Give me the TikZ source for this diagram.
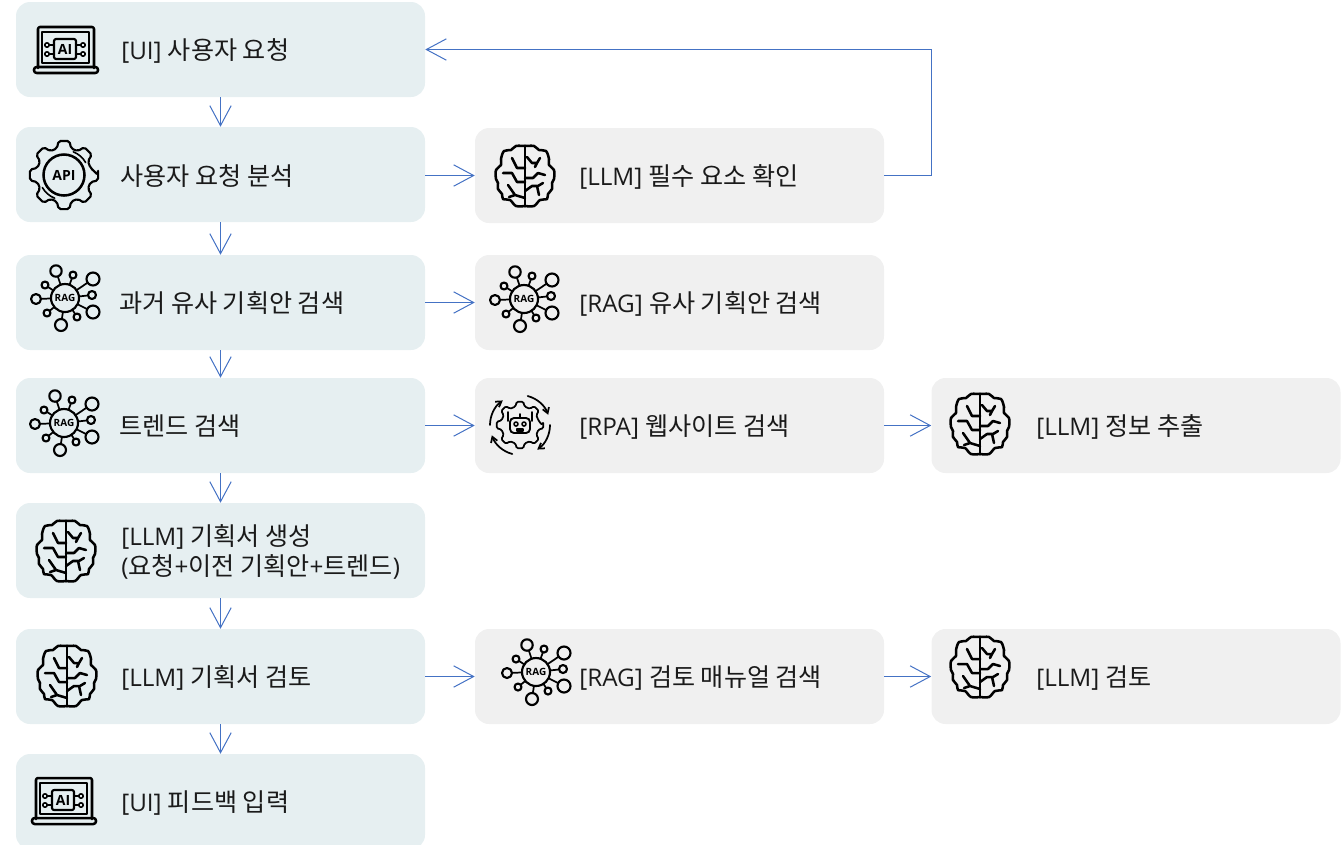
\documentclass[tikz,border=0pt]{standalone}
\usepackage{fontspec}
\setmainfont{Open Sans}
\newfontfamily\kr[Scale=1.035]{Noto Sans CJK KR}
\newfontfamily\icf{Open Sans}
\usetikzlibrary{arrows.meta,calc}
\definecolor{tealbg}{HTML}{E6EFF1}
\definecolor{graybg}{HTML}{F0F0F0}
\definecolor{arrowblue}{HTML}{4472C4}
\definecolor{ink}{HTML}{1A1A1A}
\newcommand{\K}[1]{{\kr #1}}
\tikzset{
  x=0.75pt,y=-0.75pt,
  stepbase/.style={draw=none,rounded corners=10.5pt,minimum width=306.75pt,minimum height=71.25pt,inner sep=0pt},
  tealbox/.style={stepbase,fill=tealbg},
  graybox/.style={stepbase,fill=graybg},
  label text/.style={anchor=base west,inner sep=0pt,font=\fontsize{18.2pt}{23pt}\selectfont,text=ink,align=left},
  flow/.style={draw=arrowblue,line width=0.75pt,-{Straight Barb[length=15pt,width=16pt,line width=0.75pt]}},
  icon/.style={draw=black,line width=1.9pt,line cap=round,line join=round},
  pics/brain/.style={code={
    \draw[icon] plot[smooth,tension=.55] coordinates {(0,-30) (9,-30) (14,-26) (21,-25) (24,-17) (24,-11) (29,-6) (29,3) (27,7) (27,13) (23,18) (22,23) (15,24) (9,30) (0,30)};
    \draw[icon] plot[smooth,tension=.55] coordinates {(0,-30) (-9,-30) (-14,-26) (-21,-25) (-24,-17) (-24,-11) (-29,-6) (-29,3) (-27,7) (-27,13) (-23,18) (-22,23) (-15,24) (-9,30) (0,30)};
    \draw[icon,line width=2.2pt] (0,-30) -- (0,30);
    \draw[icon] (2,-19) -- (7,-13) -- (12,-13) -- (15,-18) (12,-13) -- (10,-9);
    \draw[icon] (0,2) -- (8,2) -- (13,-3) -- (20,-1);
    \draw[icon] (0,15) -- (7,10) -- (13,10) -- (18,7) (12,10) -- (14,19);
    \draw[icon] (0,-8) -- (-8,-8) -- (-13,-18);
    \draw[icon] (0,6) -- (-8,6) -- (-13,-3) -- (-22,-3);
    \draw[icon] (0,22) -- (-10,19) -- (-17,9) (-10,19) -- (-16,21);
  }},
  pics/laptop/.style={code={
    \draw[icon,rounded corners=1.5pt] (-28,18) -- (-28,-23) -- (28,-23) -- (28,18);
    \draw[icon,line width=1.6pt] (-24,13) -- (-24,-18) -- (23,-18) -- (23,13) -- cycle;
    \draw[icon,rounded corners=2pt] (-32,17) -- (32,17) -- (32,23) -- (-32,23) -- cycle;
    \draw[icon,line width=1.6pt,rounded corners=1.5pt] (-12,-11) rectangle (10,9);
    \node[inner sep=0pt,font=\icf\bfseries\fontsize{10.5pt}{10.5pt}\selectfont] at (-1,-1) {AI};
    \draw[icon,line width=1.2pt] (-12,-5) -- (-17,-5) (-12,4) -- (-17,4) (10,-5) -- (15,-5) (10,4) -- (15,4);
    \draw[icon,line width=1.2pt] (-19,-5) circle (2.2) (-19,4) circle (2.2) (17,-5) circle (2.2) (17,4) circle (2.2);
  }},
  pics/gearapi/.style={code={
    \draw[icon,line width=1.6pt,rounded corners=1.5pt] (0:34) \foreach \a in {0,45,...,315}{ -- (\a-9:34.5) -- (\a+9:34.5) -- (\a+15:27.5) -- (\a+30:27.5)} -- cycle;
    \draw[icon] (0,0) circle (20.5);
    \draw[icon,line width=1.2pt] (-68:25) arc (-68:-30:25) (112:25) arc (112:150:25);
    \node[inner sep=0pt,font=\icf\bfseries\fontsize{10.5pt}{10.5pt}\selectfont] at (0,0) {API};
  }},
  pics/rag/.style={code={
    \draw[icon,line width=1.3pt]
      (0,0) -- (-9,-27) (0,0) -- (8,-23) (0,0) -- (28,-19) (0,0) -- (-20,-13) (0,0) -- (-29,1)
      (0,0) -- (27,-3) (0,0) -- (28,14) (0,0) -- (-18,15) (0,0) -- (-4,27) (0,0) -- (12,19);
    \draw[icon,line width=1.6pt,fill=#1]
      (0,0) circle (14) (-9,-27) circle (5.7) (8,-23) circle (3.5) (28,-19) circle (6.5)
      (-20,-13) circle (3.5) (-29,1) circle (5) (27,-3) circle (4) (28,14) circle (6.5)
      (-18,15) circle (3.5) (-4,27) circle (6) (12,19) circle (3.5);
    \node[inner sep=0pt,font=\icf\bfseries\fontsize{7.5pt}{7.5pt}\selectfont] at (0,0) {RAG};
  }},
  pics/robot/.style={code={
    \draw[icon,line width=1.3pt,rounded corners=1pt] (0:22) \foreach \a in {0,45,...,315}{ -- (\a-8:23.5) -- (\a+8:23.5) -- (\a+14:19) -- (\a+31:19)} -- cycle;
    \draw[icon,line width=1.3pt,-{Straight Barb[length=4pt,width=5pt]}] (-75:30) arc (-75:-20:30);
    \draw[icon,line width=1.3pt,-{Straight Barb[length=4pt,width=5pt]}] (0:30) arc (0:55:30);
    \draw[icon,line width=1.3pt,-{Straight Barb[length=4pt,width=5pt]}] (105:30) arc (105:160:30);
    \draw[icon,line width=1.3pt,-{Straight Barb[length=4pt,width=5pt]}] (180:30) arc (180:235:30);
    \draw[icon,line width=1.4pt,fill=graybg,rounded corners=3pt] (-10,-7) rectangle (10,8);
    \draw[icon,line width=1.2pt] (-4,-1) circle (2) (4,-1) circle (2);
    \draw[icon,line width=1.2pt] (-3,4) rectangle (3,6);
    \draw[icon,line width=1.2pt] (0,-7) -- (0,-11) (-12,-4) -- (-12,-13) (12,-4) -- (12,-13);
  }}
}
\begin{document}
\begin{tikzpicture}
\clip (0,0) rectangle (1344,844);
% left column
\node[tealbox] (a1) at (220.5,49.5) {};
\node[tealbox] (a2) at (220.5,174.5) {};
\node[tealbox] (a3) at (220.5,302.5) {};
\node[tealbox] (a4) at (220.5,425.5) {};
\node[tealbox] (a5) at (220.5,550.5) {};
\node[tealbox] (a6) at (220.5,676.5) {};
\node[tealbox] (a7) at (220.5,801.5) {};
% middle column
\node[graybox] (b2) at (679.5,175.5) {};
\node[graybox] (b3) at (679.5,302.5) {};
\node[graybox] (b4) at (679.5,425.5) {};
\node[graybox] (b6) at (679.5,676.5) {};
% right column
\node[graybox] (c4) at (1136,425.5) {};
\node[graybox] (c6) at (1136,676.5) {};
% connectors
\draw[flow] (a1.south) -- (a2.north);
\draw[flow] (a2.south) -- (a3.north);
\draw[flow] (a3.south) -- (a4.north);
\draw[flow] (a4.south) -- (a5.north);
\draw[flow] (a5.south) -- (a6.north);
\draw[flow] (a6.south) -- (a7.north);
\draw[flow] ($(a2.east)+(0,1)$) -- (b2.west);
\draw[flow] (a3.east) -- (b3.west);
\draw[flow] (a4.east) -- (b4.west);
\draw[flow] (b4.east) -- (c4.west);
\draw[flow] (a6.east) -- (b6.west);
\draw[flow] (b6.east) -- (c6.west);
\coordinate (fb) at (931.5,175.5);
\draw[flow] (b2.east) -- (fb) |- (a1.east);
% texts
\node[label text] (t1) at (121,59) {[UI] \K{사용자 요청}};
\node[label text] (t2) at (120,185) {\K{사용자 요청 분석}};
\node[label text] (t3) at (119,312) {\K{과거 유사 기획안 검색}};
\node[label text] (t4) at (119,435) {\K{트렌드 검색}};
\node[label text] (t5) at (121,545) {[LLM] \K{기획서 생성}};
\node[label text] (t5b) at (121,575) {(\K{요청}+\K{이전 기획안}+\K{트렌드})};
\node[label text] (t6) at (121,686) {[LLM] \K{기획서 검토}};
\node[label text] (t7) at (121,811) {[UI] \K{피드백 입력}};
\node[label text] (u2) at (579,185) {[LLM] \K{필수 요소 확인}};
\node[label text] (u3) at (579,312) {[RAG] \K{유사 기획안 검색}};
\node[label text] (u4) at (579,435) {[RPA] \K{웹사이트 검색}};
\node[label text] (u6) at (579,686) {[RAG] \K{검토 매뉴얼 검색}};
\node[label text] (v4) at (1036,435) {[LLM] \K{정보 추출}};
\node[label text] (v6) at (1036,686) {[LLM] \K{검토}};
% icons
\pic at (66,50) {laptop};
\pic at (64,801) {laptop};
\pic at (64,175) {gearapi};
\pic at (65,298) {rag=tealbg};
\pic at (64,423) {rag=tealbg};
\pic at (524,299) {rag=graybg};
\pic at (536,672) {rag=graybg};
\pic at (525,176) {brain};
\pic at (980,424) {brain};
\pic at (66,551) {brain};
\pic at (67,676) {brain};
\pic at (980,667) {brain};
\pic at (520,425) {robot};
\end{tikzpicture}
\end{document}
